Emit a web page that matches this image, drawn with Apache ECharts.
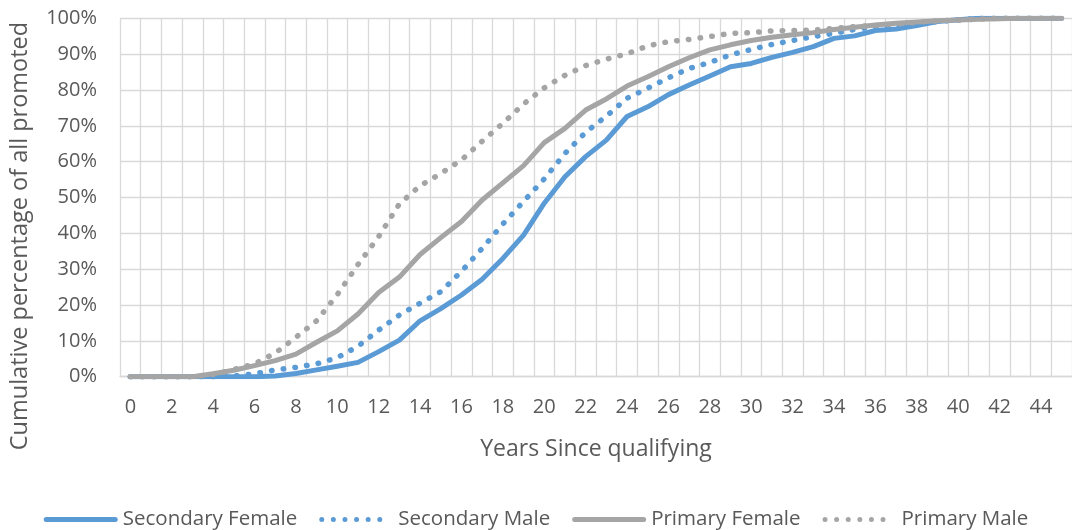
<!DOCTYPE html>
<html>
<head>
<meta charset="utf-8">
<script src="https://cdn.jsdelivr.net/npm/echarts@6/dist/echarts.min.js"></script>
<style>html,body{margin:0;padding:0;background:#fff}#c{width:1072px;height:530px}</style>
</head>
<body>
<div id="c"></div>
<script>
var years = [];
for (var i = 0; i <= 45; i++) years.push(String(i));

var secondaryFemale = [0,0,0,0,0,0,0,0.2,0.9,1.9,2.9,4,7,10.2,15.6,19,22.8,27.2,33,39.5,48.4,55.8,61.4,66,72.6,75.3,78.7,81.4,83.9,86.5,87.4,89.1,90.5,92.1,94.4,95.1,96.6,97,98,99.1,99.6,100,100,100,100,100];
var secondaryMale = [0,0,0,0,0,0.2,0.8,1.9,2.6,3.6,5.3,8.5,13,17.2,20.5,23.7,29.4,35.8,42.6,48.9,55.2,62.3,68.2,72.7,77.7,80.5,83.4,86,87.7,89.8,91.3,92.7,93.8,94.9,95.8,96.9,97.7,98.1,98.6,99.1,99.6,100,100,100,100,100];
var primaryFemale = [0,0,0,0,0.8,1.8,3.1,4.5,6.3,9.6,12.8,17.5,23.5,27.8,34.1,38.8,43.3,49.3,54.1,58.9,65.3,69.3,74.4,77.5,81.1,83.7,86.5,89,91.2,92.6,93.8,94.7,95.4,96,96.9,97.5,98.1,98.6,99,99.3,99.5,99.7,99.9,100,100,100];
var primaryMale = [0,0,0,0,0.6,2,3.6,6.6,11,15.6,22.9,31.3,39.1,48.2,53.3,56.7,60.5,65.7,70.7,76.1,80.6,84.1,86.8,88.6,90.1,92.3,93.5,94.1,94.9,95.8,96,96.5,96.6,96.7,97.2,97.7,98,98.4,98.9,99.3,99.5,99.8,100,100,100,100];

var seriesNames = ['Secondary Female','Secondary Male','Primary Female','Primary Male'];
var yTitle = 'Cumulative percentage of all promoted';
var xTitle = 'Years Since qualifying';

var BLUE = '#5B9BD5', GRAY = '#A5A5A5', TXT = '#595959', GRID = '#D9D9D9';
var FONT = 'Open Sans';

// legend icon shapes
var dotsPath = 'path://';
for (var k = 0; k < 6; k++) {
  var cx = 2.5 + 11.6 * k;
  dotsPath += 'M' + (cx - 2.5) + ' 2.5 A2.5 2.5 0 1 0 ' + (cx + 2.5) + ' 2.5 A2.5 2.5 0 1 0 ' + (cx - 2.5) + ' 2.5 Z ';
}
dotsPath += 'M74 0 M74 5';
var linePath = 'path://M2.5 0 L71.5 0 A2.5 2.5 0 0 1 71.5 5 L2.5 5 A2.5 2.5 0 0 1 2.5 0 Z';

function solid(name, data, color) {
  return {name: name, type: 'line', data: data, symbol: 'none', smooth: false,
    lineStyle: {color: color, width: 5, cap: 'round', join: 'round'},
    itemStyle: {color: color}};
}
function dotted(name, data, color) {
  return {name: name, type: 'line', data: data, symbol: 'none', smooth: false,
    lineStyle: {color: color, width: 5.5, type: [0.5, 11.3], cap: 'round', join: 'round'},
    itemStyle: {color: color}};
}

var chart = echarts.init(document.getElementById('c'), null, {renderer: 'canvas'});
chart.setOption({
  backgroundColor: '#fff',
  animation: false,
  textStyle: {fontFamily: FONT, color: TXT},
  grid: {left: 120, top: 18.3, width: 958, height: 358.4, containLabel: false},
  xAxis: {
    type: 'category', data: years, boundaryGap: true,
    axisLine: {show: true, lineStyle: {color: GRID, width: 1.3}},
    axisTick: {show: false},
    axisLabel: {interval: 1, color: TXT, fontSize: 20, fontFamily: FONT, margin: 21},
    splitLine: {show: true, interval: 0, lineStyle: {color: GRID, width: 1.3}},
    name: xTitle, nameLocation: 'middle', nameGap: 61,
    nameTextStyle: {color: TXT, fontSize: 23, fontFamily: FONT}
  },
  yAxis: {
    type: 'value', min: 0, max: 100, interval: 10,
    axisLine: {show: false}, axisTick: {show: false},
    axisLabel: {formatter: '{value}%', color: TXT, fontSize: 20, fontFamily: FONT, margin: 23},
    splitLine: {show: true, lineStyle: {color: GRID, width: 1.3}}
  },
  graphic: [{
    type: 'text', x: 20, y: 236, rotation: Math.PI / 2,
    style: {text: yTitle, fill: TXT, font: '23.5px "Open Sans"', align: 'center', verticalAlign: 'middle'}
  }],
  legend: {
    data: [
      {name: seriesNames[0], icon: linePath},
      {name: seriesNames[1], icon: dotsPath},
      {name: seriesNames[2], icon: linePath},
      {name: seriesNames[3], icon: dotsPath}
    ],
    top: 509, left: 'center', padding: 0,
    itemWidth: 74, itemHeight: 5, itemGap: 22,
    textStyle: {color: TXT, fontSize: 20.5, fontFamily: FONT}
  },
  series: [
    solid(seriesNames[0], secondaryFemale, BLUE),
    dotted(seriesNames[1], secondaryMale, BLUE),
    solid(seriesNames[2], primaryFemale, GRAY),
    dotted(seriesNames[3], primaryMale, GRAY)
  ]
});
</script>
</body>
</html>
